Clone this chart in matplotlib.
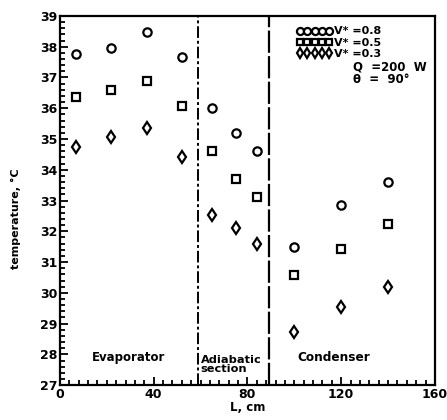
import matplotlib.pyplot as plt
from matplotlib.ticker import MultipleLocator

plt.rcParams["font.family"] = ["DejaVu Sans"]
plt.rcParams["font.weight"] = "bold"

# data
x_evap = [7, 22, 37, 52]
x_adia = [65, 75, 84]
x_cond = [100, 120, 140]
length = x_evap + x_adia + x_cond

t_v08 = [37.76, 37.96, 38.48, 37.67, 36.0, 35.2, 34.6, 31.5, 32.85, 33.6]
t_v05 = [36.37, 36.6, 36.89, 36.07, 34.6, 33.7, 33.1, 30.58, 31.42, 32.24]
t_v03 = [34.74, 35.07, 35.36, 34.41, 32.53, 32.1, 31.6, 28.72, 29.54, 30.19]

series_labels = ["V* =0.8", "V* =0.5", "V* =0.3"]
section_bounds = [59, 89]
y_ticks = [27, 28, 29, 30, 31, 32, 33, 34, 35, 36, 37, 38, 39]

fig = plt.figure(figsize=(4.47, 4.2), dpi=100)
ax = fig.add_axes([0.134, 0.083, 0.839, 0.879])

mk = dict(linestyle="none", markerfacecolor="white", markeredgecolor="black",
          markeredgewidth=1.6)
ax.plot(length, t_v08, marker="o", markersize=6, label=series_labels[0], **mk)
ax.plot(length, t_v05, marker="s", markersize=5.5, label=series_labels[1], **mk)
ax.plot(length, t_v03, marker="d", markersize=6.5, label=series_labels[2], **mk)

# section dividers
ax.axvline(section_bounds[0], color="black", linestyle=(0, (6, 1.5, 1.5, 1.5)), linewidth=1.4)
ax.axvline(section_bounds[1], color="black", linestyle=(0, (10, 1.5)), linewidth=1.6)

ax.set_xlim(0, 160)
ax.set_ylim(27, 39)
ax.xaxis.set_major_locator(MultipleLocator(40))
ax.xaxis.set_minor_locator(MultipleLocator(4))
ax.set_yticks(y_ticks)
ax.yaxis.set_minor_locator(MultipleLocator(0.2))
ax.tick_params(which="both", direction="in", width=1.3, labelsize=9)
ax.tick_params(which="major", length=6)
ax.tick_params(which="minor", length=3.5)
ax.tick_params(axis="x", pad=2)
ax.tick_params(axis="y", pad=2)
for sp in ax.spines.values():
    sp.set_linewidth(1.6)

ax.set_xlabel("L, cm", fontsize=8.5, fontweight="bold", labelpad=0)
ax.set_ylabel("temperature, °C", fontsize=8, fontweight="bold")
ax.yaxis.set_label_coords(-0.105, 0.45)

ax.text(13.5, 27.91, "Evaporator", fontsize=8.5, fontweight="bold", va="center")
ax.text(60, 27.66, "Adiabatic\nsection", fontsize=8.2, fontweight="bold", va="center",
        linespacing=0.85)
ax.text(101.5, 27.91, "Condenser", fontsize=8.7, fontweight="bold", va="center")

leg = ax.legend(loc="upper left", bbox_to_anchor=(0.632, 0.972), frameon=False,
                numpoints=5, handlelength=3.2, handletextpad=0.15, labelspacing=0.12,
                fontsize=8, markerscale=0.85, borderaxespad=0, borderpad=0,
                handleheight=0.5)
ax.text(0.781, 0.862, "Q  =200  W", transform=ax.transAxes, fontsize=8.5,
        fontweight="bold", va="center")
ax.text(0.781, 0.827, "θ  =  90°", transform=ax.transAxes, fontsize=8.5,
        fontweight="bold", va="center")

plt.savefig("out.png", dpi=100)
